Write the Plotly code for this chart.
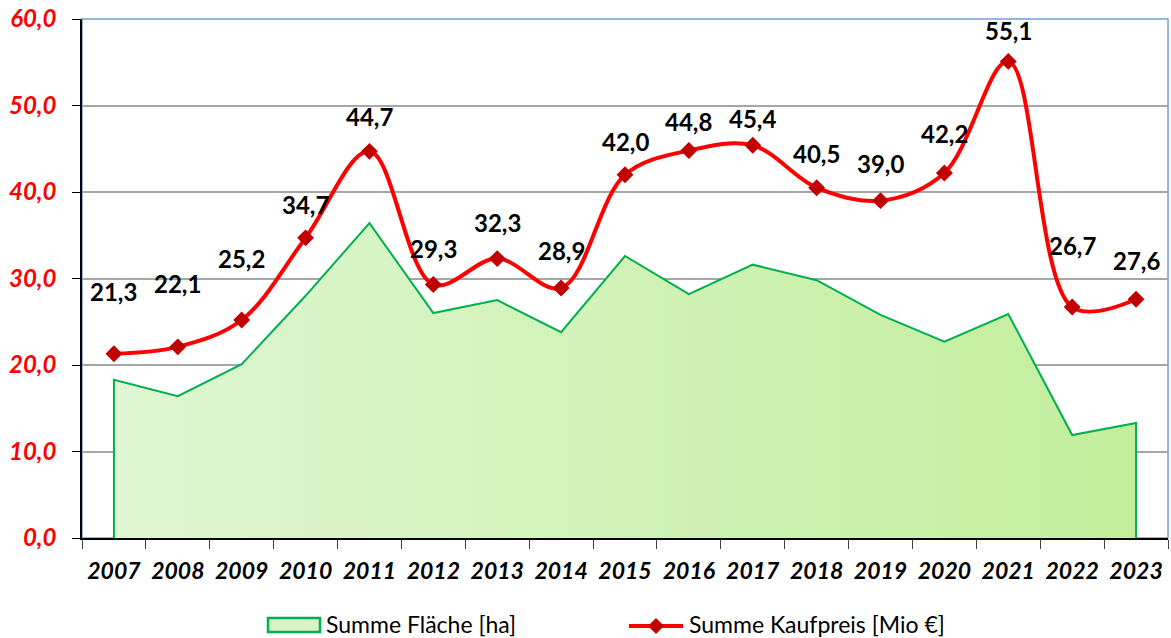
import plotly.graph_objects as go

years = [str(y) for y in range(2007, 2024)]
flaeche = [18.3, 16.4, 20.1, 28.0, 36.4, 26.0, 27.5, 23.8, 32.6, 28.2, 31.6, 29.8, 25.8, 22.7, 25.9, 11.9, 13.3]
kaufpreis = [21.3, 22.1, 25.2, 34.7, 44.7, 29.3, 32.3, 28.9, 42.0, 44.8, 45.4, 40.5, 39.0, 42.2, 55.1, 26.7, 27.6]
y_ticks = [0, 10, 20, 30, 40, 50, 60]
series_names = ["Summe Fläche [ha]", "Summe Kaufpreis [Mio €]"]

# label vertical offsets (pixels above the point)
label_shift = [62, 63, 62, 33, 35, 36, 36, 38, 33, 29, 27, 34, 37, 39, 31, 62, 39]

FONT = "Lato"
W, H = 1171, 638
ML, MR, MT, MB = 82, 3, 19, 100
PW, PH = W - ML - MR, H - MT - MB


def px(x):
    return (x - ML) / PW


def py(y):
    return (H - MB - y) / PH


fig = go.Figure()

# closed area polygon built from the data
area_x = [years[0]] + years + [years[-1]]
area_y = [0] + flaeche + [0]
fig.add_trace(go.Scatter(
    x=area_x, y=area_y, mode="lines", fill="toself",
    line=dict(color="#00b050", width=2),
    fillcolor="#d4f4c0",
    fillgradient=dict(type="horizontal",
                      colorscale=[[0, "#def6d2"], [1, "#c2ee9c"]]),
    name=series_names[0], hoverinfo="skip", showlegend=False,
))

fig.add_trace(go.Scatter(
    x=years, y=kaufpreis, mode="lines+markers",
    line=dict(color="#ff0000", width=4, shape="spline", smoothing=1.0),
    marker=dict(symbol="diamond", size=13, color="#c00000"),
    name=series_names[1], hoverinfo="skip", showlegend=False,
))

for i, (v, s) in enumerate(zip(kaufpreis, label_shift)):
    fig.add_annotation(
        x=i, y=v, xref="x", yref="y",
        text=f"{v:.1f}".replace(".", ","), showarrow=False,
        yshift=s, font=dict(family=FONT, size=24, color="#000000", weight="bold"),
        xanchor="center", yanchor="middle",
    )

# plot area border (light blue)
fig.add_shape(type="rect", xref="paper", yref="paper", x0=0, y0=0, x1=1, y1=1,
              line=dict(color="#70a0d8", width=1.5), layer="below")

# manual legend
fig.add_shape(type="rect", xref="paper", yref="paper",
              x0=px(268), x1=px(320), y0=py(632), y1=py(618),
              line=dict(color="#00b050", width=2.5), fillcolor="#d6f4c6")
fig.add_annotation(xref="paper", yref="paper", x=px(324), y=py(623.5),
                   text=series_names[0], showarrow=False, xanchor="left", yanchor="middle",
                   font=dict(family=FONT, size=23, color="#000000"))
fig.add_shape(type="line", xref="paper", yref="paper",
              x0=px(629), x1=px(683), y0=py(626), y1=py(626),
              line=dict(color="#ff0000", width=4))
cx, cy, r = 656, 626, 7.5
fig.add_shape(type="path", xref="paper", yref="paper",
              path=f"M {px(cx - r)} {py(cy)} L {px(cx)} {py(cy - r)} L {px(cx + r)} {py(cy)} L {px(cx)} {py(cy + r)} Z",
              line=dict(color="#c00000", width=1), fillcolor="#c00000")
fig.add_annotation(xref="paper", yref="paper", x=px(687), y=py(623.5),
                   text=series_names[1], showarrow=False, xanchor="left", yanchor="middle",
                   font=dict(family=FONT, size=23, color="#000000"))

fig.update_layout(
    width=W, height=H,
    margin=dict(l=ML, r=MR, t=MT, b=MB),
    paper_bgcolor="white", plot_bgcolor="white",
    separators=",.",
    showlegend=False,
    font=dict(family=FONT),
)

fig.update_xaxes(
    type="category", categoryorder="array", categoryarray=years,
    range=[-0.5, 16.5], automargin=False,
    showgrid=False, showline=True, linecolor="#000000", linewidth=1.5,
    ticks="outside", tickson="boundaries", ticklen=9, tickcolor="#404040", tickwidth=1,
    tickfont=dict(family=FONT, size=23, color="#000000", weight="bold", style="italic"),
    ticklabelstandoff=12,
    fixedrange=True,
)

fig.update_yaxes(
    range=[0, 60], tickvals=y_ticks, tickformat=".1f", automargin=False,
    showgrid=True, gridcolor="#a6a6a6", gridwidth=1.5,
    showline=True, linecolor="#000000", linewidth=1.5,
    ticks="outside", ticklen=8, tickcolor="#000000",
    tickfont=dict(family=FONT, size=24, color="#ff0000", weight="bold", style="italic"),
    ticklabelstandoff=11,
    zeroline=False, fixedrange=True,
)

fig.write_html(
    "out.html",
    config={"displayModeBar": False},
    post_script="document.body.style.margin='0';document.body.style.overflow='hidden';",
)
